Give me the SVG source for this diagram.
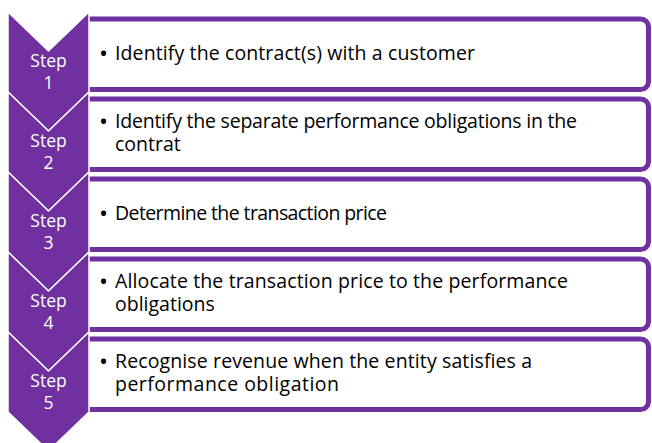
<svg xmlns="http://www.w3.org/2000/svg" width="652" height="443" viewBox="0 0 652 443">
<style>
.box{fill:#ffffff;stroke:#7030A0;stroke-width:5}
.chev{fill:#7030A0;stroke:#ffffff;stroke-width:1.5;stroke-linejoin:miter}
.st{font-family:"Open Sans",sans-serif;font-size:17.5px;fill:#ffffff;text-anchor:middle}
.tx{font-family:"Open Sans",sans-serif;font-size:19.5px;fill:#000000}
.bu{font-family:"Open Sans",sans-serif;font-size:24px;fill:#000000}
</style>
<rect width="652" height="443" fill="#ffffff"/>
<g id="connectors"/>
<g id="step1">
<path class="box" d="M87,19 H640.5 A8,8 0 0 1 648.5,27 V81.5 A8,8 0 0 1 640.5,89.5 H87 Z"/>
<path class="chev" d="M8,12 L48.5,51 L89,12 L89,92 L48.5,131 L8,92 Z"/>
<text class="st" x="48.5" y="67">Step</text>
<text class="st" x="48.5" y="89">1</text>
<text class="bu" x="99" y="62">•</text>
<text class="tx" x="115" y="60" textLength="360" lengthAdjust="spacing">Identify the contract(s) with a customer</text>
</g>
<g id="step2">
<path class="box" d="M87,99 H640.5 A8,8 0 0 1 648.5,107 V161.5 A8,8 0 0 1 640.5,169.5 H87 Z"/>
<path class="chev" d="M8,92 L48.5,131 L89,92 L89,172 L48.5,211 L8,172 Z"/>
<text class="st" x="48.5" y="147">Step</text>
<text class="st" x="48.5" y="169">2</text>
<text class="bu" x="99" y="130">•</text>
<text class="tx" x="115" y="128" textLength="462" lengthAdjust="spacing">Identify the separate performance obligations in the</text>
<text class="tx" x="115" y="151">contrat</text>
</g>
<g id="step3">
<path class="box" d="M87,179 H640.5 A8,8 0 0 1 648.5,187 V241.5 A8,8 0 0 1 640.5,249.5 H87 Z"/>
<path class="chev" d="M8,172 L48.5,211 L89,172 L89,252 L48.5,291 L8,252 Z"/>
<text class="st" x="48.5" y="227">Step</text>
<text class="st" x="48.5" y="249">3</text>
<text class="bu" x="99" y="222">•</text>
<text class="tx" x="115" y="220" textLength="272" lengthAdjust="spacing">Determine the transaction price</text>
</g>
<g id="step4">
<path class="box" d="M87,259 H640.5 A8,8 0 0 1 648.5,267 V321.5 A8,8 0 0 1 640.5,329.5 H87 Z"/>
<path class="chev" d="M8,252 L48.5,291 L89,252 L89,332 L48.5,371 L8,332 Z"/>
<text class="st" x="48.5" y="307">Step</text>
<text class="st" x="48.5" y="329">4</text>
<text class="bu" x="99" y="290">•</text>
<text class="tx" x="115" y="288" textLength="453" lengthAdjust="spacing">Allocate the transaction price to the performance</text>
<text class="tx" x="115" y="311">obligations</text>
</g>
<g id="step5">
<path class="box" d="M87,339 H640.5 A8,8 0 0 1 648.5,347 V401.5 A8,8 0 0 1 640.5,409.5 H87 Z"/>
<path class="chev" d="M8,332 L48.5,371 L89,332 L89,412 L48.5,451 L8,412 Z"/>
<text class="st" x="48.5" y="387">Step</text>
<text class="st" x="48.5" y="409">5</text>
<text class="bu" x="99" y="370">•</text>
<text class="tx" x="115" y="368" textLength="417" lengthAdjust="spacing">Recognise revenue when the entity satisfies a</text>
<text class="tx" x="115" y="391" textLength="224" lengthAdjust="spacing">performance obligation</text>
</g>
</svg>
